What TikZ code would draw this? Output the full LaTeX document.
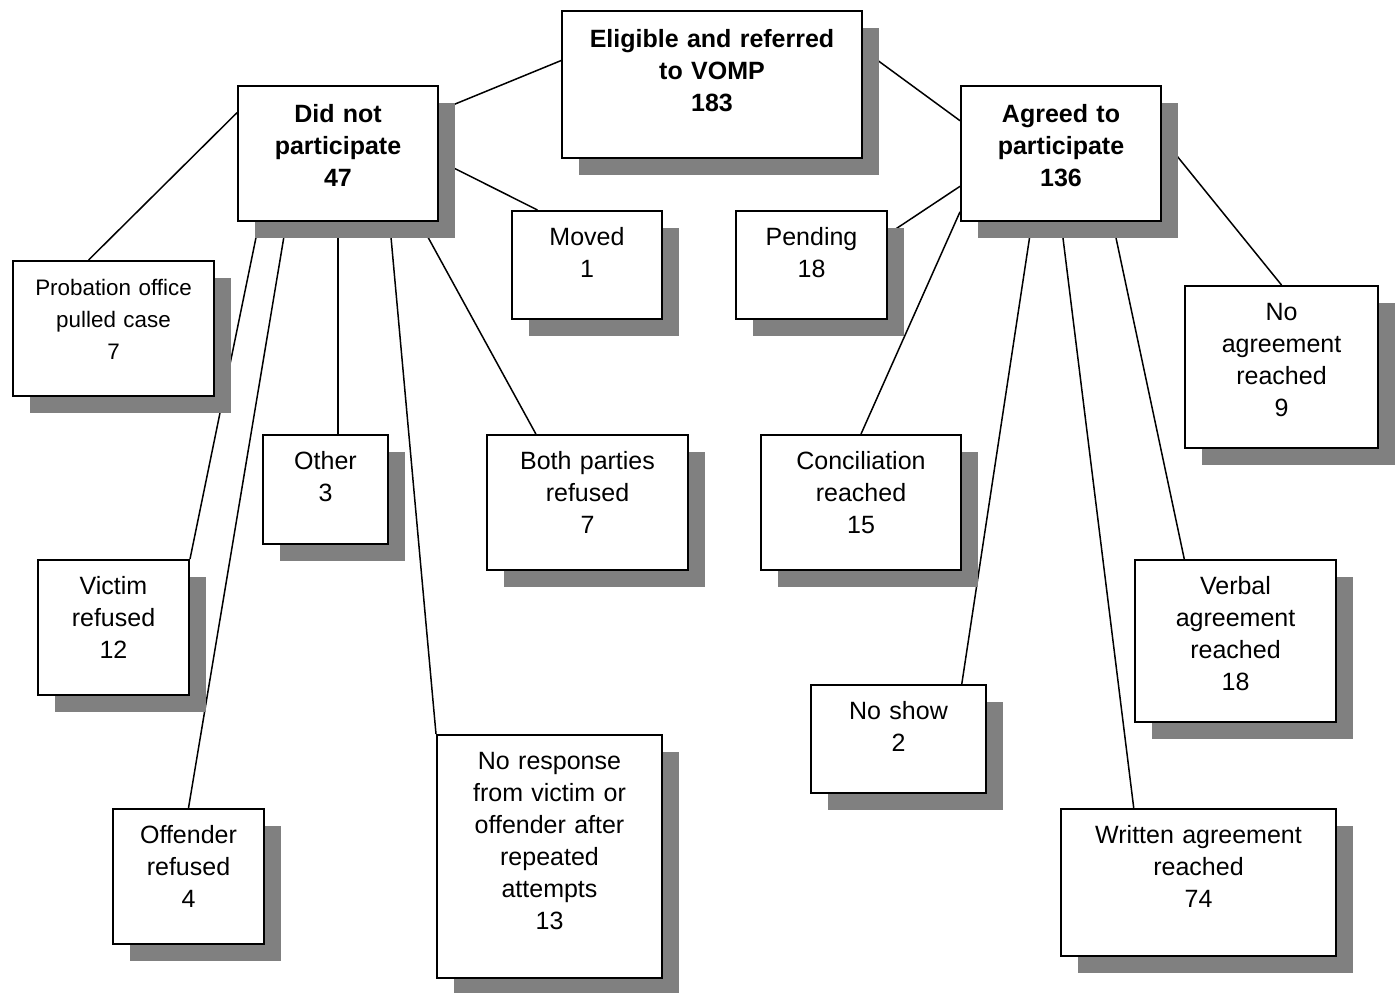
\documentclass[tikz,border=0pt]{standalone}
\usepackage{fontspec}
\setmainfont{Liberation Sans}
\usepackage{tikz}
\usetikzlibrary{shadows, backgrounds}

\tikzset{
  vbox/.style={draw, line width=1pt, fill=white, inner sep=0pt, align=center,
    anchor=north west, text height=17pt, font=\fontsize{12.5}{16}\selectfont,
    drop shadow={shadow xshift=8.3pt, shadow yshift=-8.3pt, fill=black!50, opacity=1}},
  vhead/.style={vbox, text height=18pt, font=\bfseries\fontsize{12.5}{16}\selectfont},
  link/.style={line width=0.75pt}
}

\begin{document}
\begin{tikzpicture}[x=0.5pt, y=-0.5pt]
    \useasboundingbox (0,0) rectangle (1397,992);
    % top level
    \node[vhead, text width=150pt, text height=18pt, text depth=55.5pt] (elig) at (561,10) {Eligible and referred\\to VOMP\\183};
    \node[vhead, text width=100pt, text depth=49.5pt] (dnp) at (237,85) {Did not\\participate\\47};
    \node[vhead, text width=100pt, text depth=49.5pt] (agr) at (960,85) {Agreed to\\participate\\136};
    % did not participate
    \node[vbox, text width=100.5pt, text depth=50.5pt, font=\fontsize{11.2}{16}\selectfont] (prob) at (12,260) {Probation office\\pulled case\\7};
    \node[vbox, text width=75pt, text depth=37pt] (moved) at (511,210) {Moved\\1};
    \node[vbox, text width=62.5pt, text depth=37.5pt] (other) at (262,434) {Other\\3};
    \node[vbox, text width=100.5pt, text depth=50.5pt] (both) at (486,434) {Both parties\\refused\\7};
    \node[vbox, text width=75.5pt, text depth=50.5pt] (victim) at (37,559) {Victim\\refused\\12};
    \node[vbox, text width=75.5pt, text depth=50.5pt] (offender) at (112,808) {Offender\\refused\\4};
    \node[vbox, text width=112.5pt, text depth=104.5pt] (noresp) at (436,734) {No response\\from victim or\\offender after\\repeated\\attempts\\13};
    % agreed to participate
    \node[vbox, text width=75.5pt, text depth=37pt] (pend) at (735,210) {Pending\\18};
    \node[vbox, text width=96.5pt, text depth=64pt] (noagr) at (1184,285) {No\\agreement\\reached\\9};
    \node[vbox, text width=100pt, text depth=50.5pt] (concil) at (760,434) {Conciliation\\reached\\15};
    \node[vbox, text width=100.5pt, text depth=64pt] (verbal) at (1134,559) {Verbal\\agreement\\reached\\18};
    \node[vbox, text width=87.5pt, text depth=37pt] (noshow) at (810,684) {No show\\2};
    \node[vbox, text width=137.5pt, text depth=56.5pt] (written) at (1060,808) {Written agreement\\reached\\74};
    % connectors
    \begin{scope}[on background layer]
      \draw[link] (elig.171) -- (dnp.23);
      \draw[link] (elig.13) -- (agr.162);
      \draw[link] (dnp.158) -- (prob.110);
      \draw[link] (dnp.-4) -- (moved.132);
      \draw[link] (dnp.221) -- (victim.north east);
      \draw[link] (dnp.233) -- (offender.north);
      \draw[link] (dnp.south) -- (dnp.south |- other.north);
      \draw[link] (dnp.307) -- (noresp.north west);
      \draw[link] (dnp.320) -- (both.127);
      \draw[link] (agr.198) -- (pend.22);
      \draw[link] (agr.210) -- (concil.north);
      \draw[link] (agr.247) -- (noshow.41);
      \draw[link] (agr.south) -- (written.131);
      \draw[link] (agr.307) -- (verbal.122);
      \draw[link] (agr.9) -- (noagr.north);
    \end{scope}
\end{tikzpicture}
\end{document}
